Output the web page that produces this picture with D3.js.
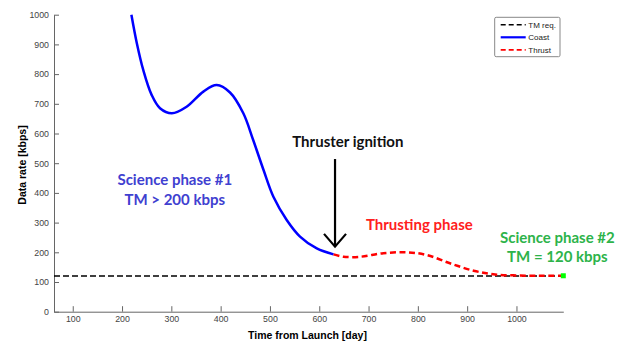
<!DOCTYPE html>
<html>
<head>
<meta charset="utf-8">
<script src="https://cdnjs.cloudflare.com/ajax/libs/d3/7.8.5/d3.min.js"></script>
<style>
body { margin:0; background:#fff; }
.axis text { font-family:"Liberation Sans", Arial, sans-serif; font-size:8.8px; fill:#444; }
.axis path, .axis line { stroke:#666; }
.note { font-family:Lato, "Open Sans", sans-serif; font-weight:bold; text-anchor:middle; }
</style>
</head>
<body>
<svg id="chart"></svg>
<script>
// coast arc (blue)
var coastDays  = [219, 230, 243, 260, 277, 301, 331, 365, 392, 419, 446, 466, 487, 507, 534, 561, 595, 629];
var coastRates = [1000, 904, 814, 730, 685, 668, 690, 741, 763, 738, 668, 578, 477, 387, 309, 253, 213, 193];

// thrust arc (red, dashed)
var thrustDays  = [629, 649, 683, 730, 777, 818, 865, 913, 953, 1000, 1050, 1095];
var thrustRates = [193, 185, 185, 197, 200, 191, 163, 138, 126, 122, 121, 121];

// telemetry requirement
var tmDays = [62, 1095];
var tmRate = 120;

var xTicks = [100, 200, 300, 400, 500, 600, 700, 800, 900, 1000];
var yTicks = [0, 100, 200, 300, 400, 500, 600, 700, 800, 900, 1000];

var legendNames  = ["TM req.", "Coast", "Thrust"];
var legendColors = ["#000", "#0000ff", "#ff0000"];
var legendDash   = ["5,3", null, "5,3"];

var screen = {width:625, height:344};
var margins = {top:14.7, left:54, right:61.7, bottom:32.3};
var graph = {
    width:screen.width-margins.left-margins.right,
    height:screen.height-margins.top-margins.bottom
};

var svg = d3.select("#chart")
    .attr("width", screen.width)
    .attr("height", screen.height);

var x = d3.scaleLinear()
    .domain([62, 1095])
    .range([0, graph.width]);
var y = d3.scaleLinear()
    .domain([0, 1000])
    .range([graph.height, 0]);

var g = svg.append("g")
    .attr("transform", "translate("+margins.left+","+margins.top+")");

// axes, ticks pointing inward like matlab
g.append("g")
    .classed("axis", true)
    .attr("transform", "translate(0,"+graph.height+")")
    .call(d3.axisBottom(x).tickValues(xTicks).tickFormat(d3.format("d"))
        .tickSizeInner(-5.5).tickSizeOuter(0).tickPadding(4));
g.append("g")
    .classed("axis", true)
    .call(d3.axisLeft(y).tickValues(yTicks).tickFormat(d3.format("d"))
        .tickSizeInner(-5).tickSizeOuter(0).tickPadding(5));

var line = d3.line()
    .x(function(d){ return x(d[0]); })
    .y(function(d){ return y(d[1]); })
    .curve(d3.curveCatmullRom);

// TM requirement
g.append("line")
    .attr("x1", 0)
    .attr("x2", x(tmDays[1]))
    .attr("y1", y(tmRate))
    .attr("y2", y(tmRate))
    .attr("stroke", "#000")
    .attr("stroke-width", 1.6)
    .attr("stroke-dasharray", "6,3");

g.append("path")
    .datum(d3.zip(coastDays, coastRates))
    .attr("d", line)
    .attr("fill", "none")
    .attr("stroke", "#0000ff")
    .attr("stroke-width", 2.5);

g.append("path")
    .datum(d3.zip(thrustDays, thrustRates))
    .attr("d", line)
    .attr("fill", "none")
    .attr("stroke", "#ff0000")
    .attr("stroke-width", 2.5)
    .attr("stroke-dasharray", "6,3.5");

// end marker
var last = thrustDays.length-1;
g.append("rect")
    .attr("x", x(thrustDays[last])-2.5)
    .attr("y", y(thrustRates[last])-2.5)
    .attr("width", 5)
    .attr("height", 5)
    .attr("fill", "#00ff00");

// arrow for thruster ignition
var ax = x(632);
g.append("line")
    .attr("x1", ax).attr("x2", ax)
    .attr("y1", y(514)).attr("y2", y(219))
    .attr("stroke", "#000").attr("stroke-width", 2.2);
g.append("path")
    .attr("d", "M"+(ax-11)+","+y(262)+"L"+ax+","+y(219)+"L"+(ax+11)+","+y(262))
    .attr("fill", "none")
    .attr("stroke", "#000")
    .attr("stroke-width", 2.2);

// annotations
var notes = [
    {day:307, rate:427, text:"Science phase #1", color:"#4040d0"},
    {day:307, rate:360, text:"TM > 200 kbps", color:"#4040d0"},
    {day:658, rate:556, text:"Thruster ignition", color:"#111"},
    {day:803, rate:275, text:"Thrusting phase", color:"#ff2020"},
    {day:1083, rate:231, text:"Science phase #2", color:"#2db34a"},
    {day:1083, rate:167, text:"TM = 120 kbps", color:"#2db34a"}
];
g.selectAll(".note")
    .data(notes)
    .enter()
    .append("text")
    .classed("note", true)
    .attr("x", function(d){ return x(d.day); })
    .attr("y", function(d){ return y(d.rate); })
    .attr("fill", function(d){ return d.color; })
    .style("font-size", "15px")
    .text(function(d){ return d.text; });

// axis labels
svg.append("text")
    .attr("x", 307.5)
    .attr("y", 339)
    .attr("text-anchor", "middle")
    .style("font-family", "'Liberation Sans', Arial, sans-serif")
    .style("font-weight", "bold")
    .style("font-size", "10.5px")
    .text("Time from Launch [day]");
svg.append("text")
    .attr("transform", "translate(26,165) rotate(-90)")
    .attr("text-anchor", "middle")
    .style("font-family", "'Liberation Sans', Arial, sans-serif")
    .style("font-weight", "bold")
    .style("font-size", "10.5px")
    .text("Data rate [kbps]");

// legend
var legend = svg.append("g")
    .attr("transform", "translate(494.7,17.3)");
legend.append("rect")
    .attr("width", 65.3)
    .attr("height", 39.4)
    .attr("rx", 1.5)
    .attr("fill", "#fff")
    .attr("stroke", "#888");
var rows = legend.selectAll(".row")
    .data(legendNames)
    .enter()
    .append("g")
    .attr("transform", function(d, i){ return "translate(0,"+(7.4+i*12.6)+")"; });
rows.append("line")
    .attr("x1", 6).attr("x2", 31)
    .attr("stroke", function(d, i){ return legendColors[i]; })
    .attr("stroke-width", function(d, i){ return i==1 ? 2.2 : 1.6; })
    .attr("stroke-dasharray", function(d, i){ return legendDash[i]; });
rows.append("text")
    .attr("x", 33.6)
    .attr("dy", "0.35em")
    .style("font-family", "'Liberation Sans', Arial, sans-serif")
    .style("font-size", "8px")
    .attr("fill", "#222")
    .text(function(d){ return d; });
</script>
</body>
</html>
